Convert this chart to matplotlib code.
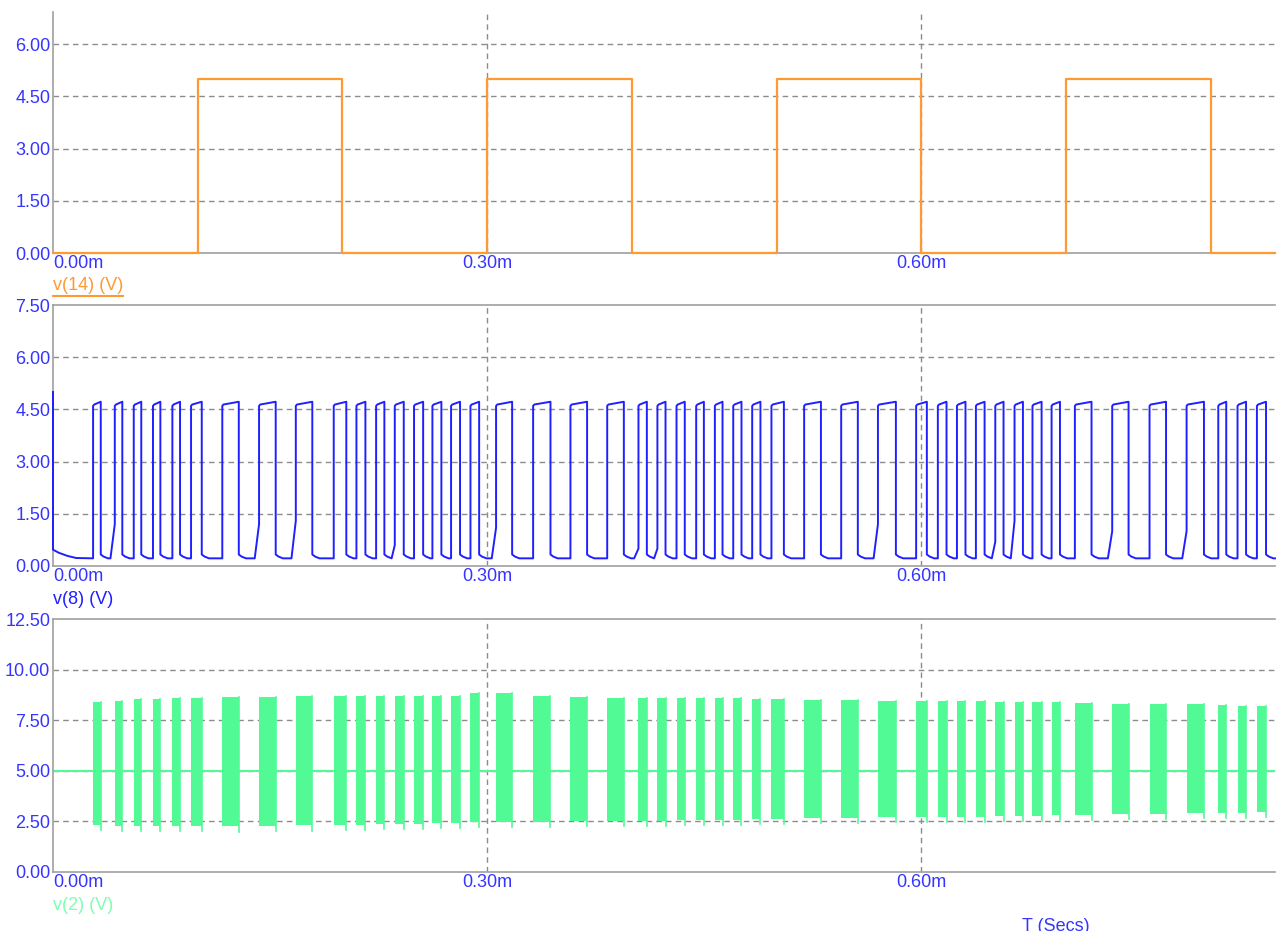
import numpy as np
import matplotlib
matplotlib.use("Agg")
import matplotlib.pyplot as plt

plt.rcParams["font.family"] = ["Liberation Sans", "DejaVu Sans"]

# ---- data (time in ms, voltages in V) ----
T_END = 0.8445

clock_rise = [0.10, 0.30, 0.50, 0.70]
clock_fall = [0.20, 0.40, 0.60, 0.80]
CLOCK_HIGH = 5.0

pulse_on = [0.0277, 0.0427, 0.0558, 0.0691, 0.0825, 0.0954, 0.1170, 0.1424,
            0.1678, 0.1940, 0.2097, 0.2233, 0.2362, 0.2495, 0.2622, 0.2751,
            0.2885, 0.3062, 0.3318, 0.3576, 0.3830, 0.4046, 0.4177, 0.4309,
            0.4445, 0.4574, 0.4701, 0.4832, 0.4965, 0.5191, 0.5447, 0.5701,
            0.5965, 0.6115, 0.6247, 0.6378, 0.6512, 0.6645, 0.6769, 0.6901,
            0.7062, 0.7320, 0.7578, 0.7834, 0.8053, 0.8186, 0.8320]
pulse_off = [0.0330, 0.0479, 0.0610, 0.0742, 0.0878, 0.1028, 0.1284, 0.1539,
             0.1792, 0.2027, 0.2159, 0.2290, 0.2424, 0.2558, 0.2684, 0.2813,
             0.2945, 0.3173, 0.3438, 0.3691, 0.3945, 0.4104, 0.4233, 0.4366,
             0.4498, 0.4627, 0.4758, 0.4889, 0.5051, 0.5307, 0.5562, 0.5825,
             0.6039, 0.6175, 0.6306, 0.6438, 0.6569, 0.6703, 0.6832, 0.6959,
             0.7177, 0.7433, 0.7692, 0.7954, 0.8108, 0.8245, 0.8383]
# level reached by the slow part of a rising edge before it snaps high
pulse_knee = [0.0, 1.2, 0.0, 0.0, 0.0, 0.0, 0.0, 1.2,
              1.3, 0.0, 0.0, 0.0, 0.6, 0.0, 0.0, 0.0,
              0.0, 1.1, 0.0, 0.0, 0.0, 0.5, 0.5, 0.0,
              0.0, 0.0, 0.0, 0.0, 0.0, 0.0, 0.0, 1.2,
              0.0, 0.0, 0.0, 0.0, 0.7, 1.3, 0.0, 0.0,
              0.0, 1.0, 0.0, 1.0, 0.0, 0.0, 0.0]

burst_top = [8.41, 8.46, 8.53, 8.55, 8.60, 8.60, 8.63, 8.66,
             8.68, 8.70, 8.70, 8.70, 8.70, 8.70, 8.70, 8.72,
             8.85, 8.82, 8.70, 8.65, 8.62, 8.60, 8.60, 8.60,
             8.58, 8.58, 8.58, 8.57, 8.55, 8.50, 8.48, 8.45,
             8.45, 8.45, 8.43, 8.43, 8.42, 8.40, 8.40, 8.38,
             8.35, 8.32, 8.30, 8.28, 8.25, 8.22, 8.20]
burst_bottom = [2.32, 2.27, 2.27, 2.27, 2.26, 2.26, 2.25, 2.28,
                2.30, 2.32, 2.33, 2.35, 2.36, 2.38, 2.40, 2.42,
                2.45, 2.45, 2.47, 2.50, 2.52, 2.52, 2.53, 2.55,
                2.56, 2.57, 2.58, 2.60, 2.62, 2.65, 2.68, 2.70,
                2.70, 2.72, 2.73, 2.74, 2.75, 2.77, 2.78, 2.80,
                2.82, 2.85, 2.87, 2.90, 2.92, 2.93, 2.95]

# ---- colours ----
ORANGE = "#ff9a33"
BLUE = "#1f1fff"
GREEN = "#52fa96"
GREEN_LABEL = "#7dffb0"
TICK_BLUE = "#3535ff"
GRID = "#8c8c8c"
SPINE = "#a0a0a0"
FS = 13

W, H = 1280, 931
fig = plt.figure(figsize=(W / 100, H / 100), dpi=100)


def px_axes(left, top, right, bottom):
    return fig.add_axes([left / W, 1 - bottom / H, (right - left) / W, (bottom - top) / H])


ax1 = px_axes(53, 12, 1275, 253)
ax2 = px_axes(53, 305, 1275, 566)
ax3 = px_axes(53, 619, 1275, 872)


def style(ax, ymax, yticks, top_spine):
    ax.set_xlim(0, T_END)
    ax.set_ylim(0, ymax)
    ax.set_facecolor("white")
    ax.spines["right"].set_visible(False)
    ax.spines["top"].set_visible(top_spine)
    for side in ("left", "bottom", "top"):
        ax.spines[side].set_color(SPINE)
        ax.spines[side].set_linewidth(1.2)
    ax.set_yticks(yticks)
    ax.set_yticklabels([f"{v:.2f}" for v in yticks], color=TICK_BLUE, fontsize=FS)
    ax.tick_params(axis="y", length=0, pad=2)
    ax.set_xticks([])
    for v in yticks:
        if 0 < v < ymax - 1e-9:
            ax.axhline(v, color=GRID, lw=1.0, ls=(0, (4, 3)), zorder=0)
    for x in (0.30, 0.60):
        ax.axvline(x, color=GRID, lw=1.0, ls=(0, (4, 3)), zorder=0)
    # time labels under each panel
    ax.text(0.0, -0.008, "0.00m", transform=ax.get_xaxis_transform(), ha="left", va="top",
            color=TICK_BLUE, fontsize=FS)
    for x in (0.30, 0.60):
        ax.text(x, -0.008, f"{x:.2f}m", transform=ax.get_xaxis_transform(), ha="center",
                va="top", color=TICK_BLUE, fontsize=FS)


style(ax1, 6.92, [0, 1.5, 3.0, 4.5, 6.0], False)
style(ax2, 7.5, [0, 1.5, 3.0, 4.5, 6.0, 7.5], True)
style(ax3, 12.5, [0, 2.5, 5.0, 7.5, 10.0, 12.5], True)

# ---- v(14): clock ----
t1, v1 = [0.0], [0.0]
for r, f in zip(clock_rise, clock_fall):
    t1 += [r, r, f, f]
    v1 += [0.0, CLOCK_HIGH, CLOCK_HIGH, 0.0]
t1.append(T_END)
v1.append(0.0)
ax1.plot(t1, v1, color=ORANGE, lw=1.6, clip_on=False, zorder=3)

# ---- v(8): switching node ----
HIGH_START, HIGH_END = 4.60, 4.72
LOW_AFTER, LOW_MID, LOW_FLAT = 0.33, 0.27, 0.22
KNEE_LEAD = 0.003

t2 = [0.0, 0.0, 0.004, 0.010, 0.016]
v2 = [5.0, 0.47, 0.38, 0.29, 0.23]
prev_off = None
for on, off, knee in zip(pulse_on, pulse_off, pulse_knee):
    settle = 0.0 if prev_off is None else prev_off + 0.005
    if prev_off is not None:
        t2 += [prev_off + 0.002, min(settle, on)]
        v2 += [LOW_MID, LOW_FLAT]
    if knee > 0:
        start = max(on - KNEE_LEAD, min(settle, on))
        t2 += [start, on]
        v2 += [LOW_FLAT, knee]
    else:
        t2 += [on]
        v2 += [LOW_FLAT]
    t2 += [on, on + 0.0008, off, off]
    v2 += [HIGH_START, HIGH_START + 0.04, HIGH_END, LOW_AFTER]
    prev_off = off
t2 += [prev_off + 0.002, prev_off + 0.005, T_END]
v2 += [LOW_MID, LOW_FLAT, LOW_FLAT]
ax2.plot(t2, v2, color=BLUE, lw=1.4, zorder=4, clip_on=False)

# ---- v(2): ringing bursts around the 5 V bias ----
ax3.axhline(5.0, color=GREEN, lw=1.5, zorder=2)
for on, off, top, bot in zip(pulse_on, pulse_off, burst_top, burst_bottom):
    ax3.fill_between([on, off], [bot, bot], [top, top], color=GREEN, lw=0, zorder=3)
    ax3.plot([off, off], [bot - 0.25, top], color=GREEN, lw=1.2, zorder=3)

# ---- trace names ----
fig.canvas.draw()
renderer = fig.canvas.get_renderer()
names = [("v(14) (V)", ORANGE, 286, True),
         ("v(8) (V)", BLUE, 599, False),
         ("v(2) (V)", GREEN_LABEL, 906, False)]
for txt, col, ypix, underline in names:
    t = fig.text(53 / W, 1 - ypix / H, txt, color=col, fontsize=FS, ha="left", va="center")
    if underline:
        bb = t.get_window_extent(renderer)
        y_ul = (bb.y0 - 1) / H
        fig.add_artist(plt.Line2D([bb.x0 / W, bb.x1 / W], [y_ul, y_ul], color=col, lw=1.5))

fig.text(1022 / W, 1 - 918 / H, "T (Secs)", color=TICK_BLUE, fontsize=FS, ha="left", va="top")

fig.savefig("out.png", dpi=100, facecolor="white")
